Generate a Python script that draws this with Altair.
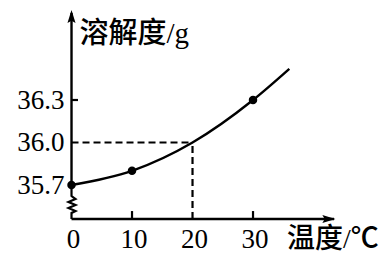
import altair as alt
import pandas as pd

# ---- data ----
temps = [0, 10, 30]                    # measured points, 温度/℃
solub = [35.7, 35.8, 36.3]             # 溶解度/g
curve_t = [0, 10, 20, 30, 36]
curve_s = [35.7, 35.8, 36.0, 36.3, 36.52]
x_ticks = [0, 10, 20, 30]
y_ticks = [35.7, 36.0, 36.3]
y_tick_labels = ["35.7", "36.0", "36.3"]
x_title = "温度/℃"
y_title = "溶解度/g"
read_t, read_s = 20, 36.0              # dashed reading at 20 ℃

# ---- frame (axis decoration in data units) ----
X_DOMAIN = [-11.82, 52.31]
Y_DOMAIN = [35.128, 37.006]
AX_Y = 35.46          # level of the drawn x axis
AX_X_END = 43.7       # arrow tip of x axis
AX_Y_TOP = 36.935     # arrow tip of y axis
zig_t = [0, 0, 0.66, -0.5, 0.66, -0.5, 0.66, 0, 0]
zig_s = [35.7, 35.622, 35.601, 35.580, 35.559, 35.538, 35.516, 35.502, AX_Y]

FONT_NUM = "'Liberation Serif', 'Times New Roman', serif"
FONT_MIX = "'Liberation Serif', 'Noto Sans CJK SC', serif"

xs = alt.Scale(domain=X_DOMAIN, nice=False, zero=False)
ys = alt.Scale(domain=Y_DOMAIN, nice=False, zero=False)
X = lambda f: alt.X(f, type="quantitative", scale=xs, axis=None)
Y = lambda f: alt.Y(f, type="quantitative", scale=ys, axis=None)

pts = pd.DataFrame({"t": temps, "s": solub})
cur = pd.DataFrame({"t": curve_t, "s": curve_s})
zig = pd.DataFrame({"t": zig_t, "s": zig_s, "o": range(len(zig_t))})

yaxis = alt.Chart(pd.DataFrame({"t": [0], "s": [zig_s[0]], "s2": [AX_Y_TOP - 0.02]})).mark_rule(
    color="black", strokeWidth=2.4).encode(x=X("t"), y=Y("s"), y2="s2")
zigzag = alt.Chart(zig).mark_line(color="black", strokeWidth=2.2, strokeJoin="miter").encode(
    x=X("t"), y=Y("s"), order="o")
xaxis = alt.Chart(pd.DataFrame({"t": [0], "t2": [AX_X_END - 0.3], "s": [AX_Y]})).mark_rule(
    color="black", strokeWidth=2.4).encode(x=X("t"), x2="t2", y=Y("s"))

arrow_path = "M0,-1L0.62,1L0,0.65L-0.62,1Z"
up_arrow = alt.Chart(pd.DataFrame({"t": [0], "s": [AX_Y_TOP - 0.046]})).mark_point(
    shape=arrow_path, filled=True, color="black", size=170, opacity=1).encode(x=X("t"), y=Y("s"))
right_arrow = alt.Chart(pd.DataFrame({"t": [AX_X_END - 1.16], "s": [AX_Y]})).mark_point(
    shape=arrow_path, filled=True, color="black", size=170, angle=90, opacity=1).encode(x=X("t"), y=Y("s"))

xt = pd.DataFrame({"t": [10, 30], "s": [AX_Y] * 2, "s2": [AX_Y + 0.056] * 2})
xtick = alt.Chart(xt).mark_rule(color="black", strokeWidth=2.2).encode(x=X("t"), y=Y("s"), y2="s2")
yt = pd.DataFrame({"t": [0], "t2": [1.07], "s": [36.3]})
ytick = alt.Chart(yt).mark_rule(color="black", strokeWidth=2.2).encode(x=X("t"), x2="t2", y=Y("s"))

dh = alt.Chart(pd.DataFrame({"t": [0], "t2": [read_t], "s": [read_s]})).mark_rule(
    color="black", strokeWidth=2.2, strokeDash=[7, 4]).encode(x=X("t"), x2="t2", y=Y("s"))
dv = alt.Chart(pd.DataFrame({"t": [read_t], "s": [AX_Y], "s2": [read_s]})).mark_rule(
    color="black", strokeWidth=2.2, strokeDash=[7, 4]).encode(x=X("t"), y=Y("s"), y2="s2")

curve = alt.Chart(cur).mark_line(color="black", strokeWidth=2.4, interpolate="monotone").encode(
    x=X("t"), y=Y("s"))
dots = alt.Chart(pts).mark_circle(color="black", size=72, opacity=1).encode(x=X("t"), y=Y("s"))

ylab = alt.Chart(pd.DataFrame({"t": [0] * 3, "s": y_ticks, "lab": y_tick_labels})).mark_text(
    align="right", baseline="middle", dx=-7, dy=1, font=FONT_NUM, fontSize=27, color="black").encode(
    x=X("t"), y=Y("s"), text="lab:N")
xlab = alt.Chart(pd.DataFrame({"t": x_ticks, "s": [AX_Y] * 4, "lab": [str(v) for v in x_ticks]})).mark_text(
    align="center", baseline="middle", dy=21, dx=2, font=FONT_NUM, fontSize=27, color="black").encode(
    x=X("t"), y=Y("s"), text="lab:N")
ytitle = alt.Chart(pd.DataFrame({"t": [0], "s": [AX_Y_TOP], "lab": [y_title]})).mark_text(
    align="left", baseline="middle", dx=8, dy=24, font=FONT_MIX, fontSize=29, fontWeight=500,
    color="black").encode(x=X("t"), y=Y("s"), text="lab:N")
xtitle = alt.Chart(pd.DataFrame({"t": [AX_X_END], "s": [AX_Y], "lab": [x_title]})).mark_text(
    align="left", baseline="middle", dx=-49, dy=21, font=FONT_MIX, fontSize=28, fontWeight=500,
    color="black").encode(x=X("t"), y=Y("s"), text="lab:N")

chart = alt.layer(
    dh, dv, yaxis, zigzag, xaxis, up_arrow, right_arrow, xtick, ytick, curve, dots,
    ylab, xlab, ytitle, xtitle
).properties(
    width=388, height=266, padding=0, background="white",
    autosize=alt.AutoSizeParams(type="none")
).configure_view(stroke=None)

chart.save("out.html", embed_options={"renderer": "svg", "actions": False})
